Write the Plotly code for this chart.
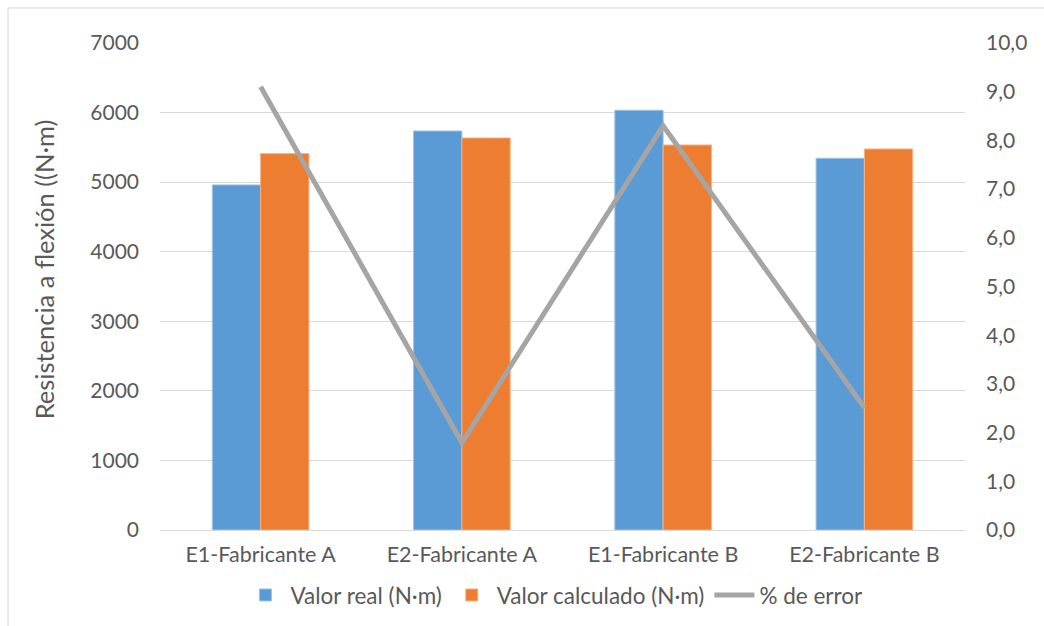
import plotly.graph_objects as go

categories = ["E1-Fabricante A", "E2-Fabricante A", "E1-Fabricante B", "E2-Fabricante B"]
valor_real = [4960, 5735, 6033, 5343]
valor_calculado = [5410, 5635, 5534, 5476]
pct_error = [9.1, 1.79, 8.3, 2.51]

left_ticks = [0, 1000, 2000, 3000, 4000, 5000, 6000, 7000]
right_ticks = [0, 1, 2, 3, 4, 5, 6, 7, 8, 9, 10]

FONT = "Lato, Calibri, sans-serif"
TXT = "#595959"

fig = go.Figure()
fig.add_trace(go.Bar(
    x=categories, y=valor_real, name="Valor real (N·m)",
    marker=dict(color="#5b9bd5", line=dict(color="#9cc3e6", width=1)),
))
fig.add_trace(go.Bar(
    x=categories, y=valor_calculado, name="Valor calculado (N·m)",
    marker=dict(color="#ed7d31", line=dict(color="#f4b183", width=1)),
))
fig.add_trace(go.Scatter(
    x=categories, y=pct_error, name="% de error", yaxis="y2",
    mode="lines", line=dict(color="#a5a5a5", width=5),
))

fig.update_layout(
    width=1044, height=626,
    margin=dict(l=160, r=79, t=43, b=96, autoexpand=False),
    paper_bgcolor="white", plot_bgcolor="white",
    font=dict(family=FONT, size=21, color=TXT),
    separators=", ",
    barmode="group", bargap=0.52, bargroupgap=0,
    showlegend=True,
    legend=dict(orientation="h", x=0.49, xanchor="center", y=-0.09, yanchor="top",
                font=dict(size=22.5, color=TXT), itemwidth=40, traceorder="normal"),
    xaxis=dict(showgrid=False, showline=True, linecolor="#d9d9d9", linewidth=1,
               ticks="", ticklabelstandoff=5, tickfont=dict(size=21.5, color=TXT)),
    yaxis=dict(range=[0, 7000], tickvals=left_ticks, tickformat="d",
               showgrid=True, gridcolor="#d9d9d9", gridwidth=1, zeroline=False,
               showline=False, ticks="", ticklabelstandoff=20,
               tickfont=dict(size=21, color=TXT)),
    yaxis2=dict(range=[0, 10], tickvals=right_ticks, tickformat=".1f",
                overlaying="y", side="right", showgrid=False, zeroline=False,
                showline=False, ticks="", ticklabelstandoff=20,
                tickfont=dict(size=21, color=TXT)),
    annotations=[dict(text="Resistencia a flexión ((N·m)", textangle=-90,
                      xref="paper", yref="paper", x=-0.143, y=0.535,
                      xanchor="center", yanchor="middle", showarrow=False,
                      font=dict(size=25.5, color=TXT))],
    shapes=[dict(type="rect", xref="paper", yref="paper",
                 x0=-0.1888, x1=1.11, y0=-0.23, y1=1.0719,
                 line=dict(color="#d9d9d9", width=1), fillcolor="rgba(0,0,0,0)",
                 layer="below")],
)

fig.write_html("out.html")
